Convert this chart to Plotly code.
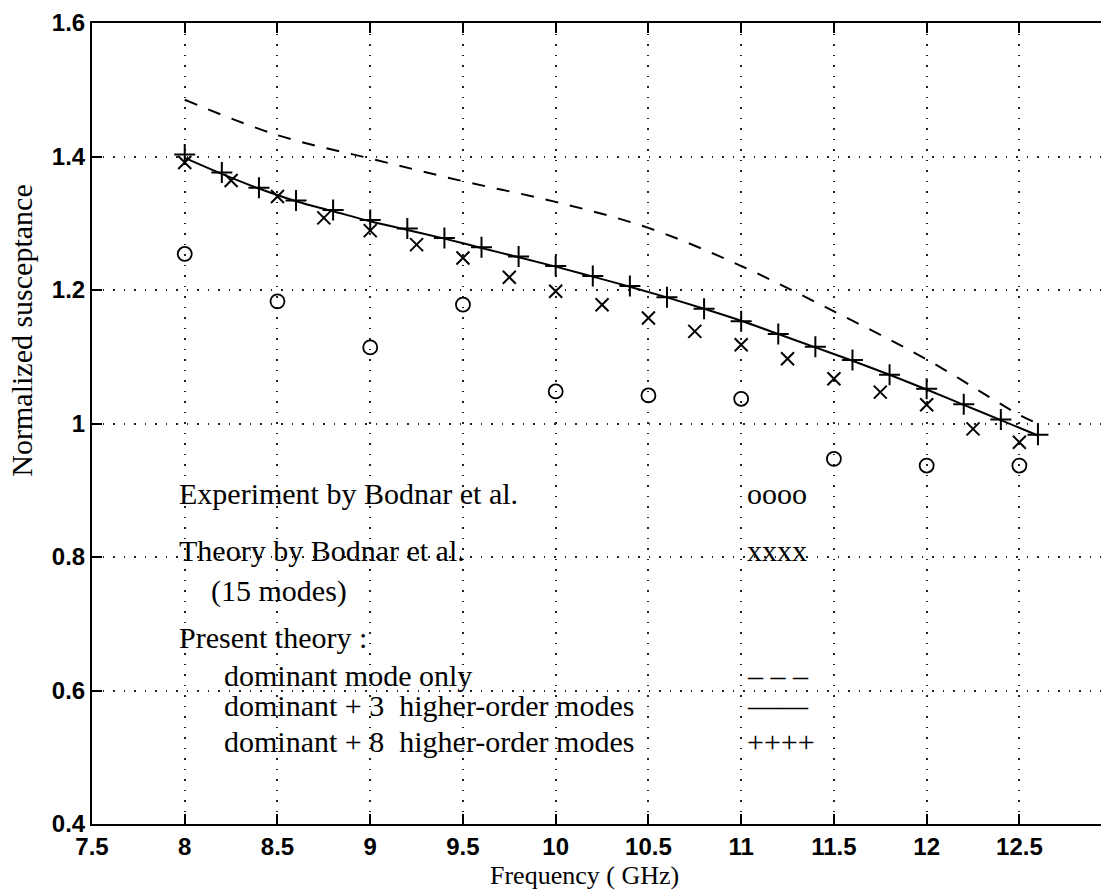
import plotly.graph_objects as go

# ---- data ----
exp_f = [8.0, 8.5, 9.0, 9.5, 10.0, 10.5, 11.0, 11.5, 12.0, 12.5]
exp_b = [1.254, 1.183, 1.114, 1.178, 1.048, 1.042, 1.037, 0.947, 0.937, 0.937]

bod_f = [8.0, 8.25, 8.5, 8.75, 9.0, 9.25, 9.5, 9.75, 10.0, 10.25, 10.5, 10.75,
         11.0, 11.25, 11.5, 11.75, 12.0, 12.25, 12.5]
bod_b = [1.391, 1.364, 1.340, 1.308, 1.289, 1.268, 1.248, 1.219, 1.198, 1.178,
         1.158, 1.138, 1.118, 1.097, 1.067, 1.047, 1.028, 0.992, 0.972]

dom_f = [8.0, 8.5, 9.0, 9.5, 10.0, 10.5, 11.0, 11.5, 12.0, 12.5, 12.6]
dom_b = [1.485, 1.432, 1.397, 1.363, 1.332, 1.293, 1.236, 1.168, 1.096, 1.013, 1.0]

m3_f = [8.0, 8.2, 8.4, 8.6, 8.8, 9.0, 9.2, 9.4, 9.6, 9.8, 10.0, 10.2, 10.4, 10.6,
        10.8, 11.0, 11.2, 11.4, 11.6, 11.8, 12.0, 12.2, 12.4, 12.6]
m3_b = [1.398, 1.374, 1.352, 1.333, 1.318, 1.303, 1.290, 1.277, 1.263, 1.249,
        1.235, 1.220, 1.205, 1.189, 1.172, 1.154, 1.134, 1.114, 1.094, 1.073,
        1.051, 1.028, 1.005, 0.982]

m8_f = [8.0, 8.2, 8.4, 8.6, 8.8, 9.0, 9.2, 9.4, 9.6, 9.8, 10.0, 10.2, 10.4, 10.6,
        10.8, 11.0, 11.2, 11.4, 11.6, 11.8, 12.0, 12.2, 12.4, 12.6]
m8_b = [1.403, 1.376, 1.353, 1.334, 1.320, 1.305, 1.292, 1.278, 1.264, 1.250,
        1.236, 1.221, 1.206, 1.189, 1.172, 1.153, 1.134, 1.115, 1.095, 1.073,
        1.052, 1.029, 1.006, 0.983]

x_ticks = [7.5, 8, 8.5, 9, 9.5, 10, 10.5, 11, 11.5, 12, 12.5]
x_tick_text = ["7.5", "8", "8.5", "9", "9.5", "10", "10.5", "11", "11.5", "12", "12.5"]
y_ticks = [0.4, 0.6, 0.8, 1.0, 1.2, 1.4, 1.6]
y_tick_text = ["0.4", "0.6", "0.8", "1", "1.2", "1.4", "1.6"]

x_title = "Frequency ( GHz)"
y_title = "Normalized susceptance"
labels_left = ["Experiment by Bodnar et al.", "Theory by Bodnar et al.", "(15 modes)",
               "Present theory :", "dominant mode only",
               "dominant + 3  higher-order modes", "dominant + 8  higher-order modes"]
labels_sym = ["oooo", "xxxx", "– – –", "——", "++++"]

SERIF = "Liberation Serif, Times New Roman, serif"
SANS = "Liberation Sans, Arial, sans-serif"
TXT = 30

fig = go.Figure()
fig.add_trace(go.Scatter(x=dom_f, y=dom_b, mode="lines", line_shape="spline",
                         line=dict(color="black", width=2, dash="13px,12px"),
                         showlegend=False))
fig.add_trace(go.Scatter(x=m3_f, y=m3_b, mode="lines", line_shape="spline",
                         line=dict(color="black", width=2), showlegend=False))
fig.add_trace(go.Scatter(x=m8_f, y=m8_b, mode="markers",
                         marker=dict(symbol="cross-thin-open", size=15, color="black",
                                     line=dict(color="black", width=2)),
                         showlegend=False))
fig.add_trace(go.Scatter(x=bod_f, y=bod_b, mode="markers",
                         marker=dict(symbol="x-thin-open", size=13, color="black",
                                     line=dict(color="black", width=2)),
                         showlegend=False))
fig.add_trace(go.Scatter(x=exp_f, y=exp_b, mode="markers",
                         marker=dict(symbol="circle-open", size=14, color="black",
                                     line=dict(color="black", width=1.8)),
                         showlegend=False))

# text block (positions in data coordinates)
left_pos = [(7.96, 0.895), (7.96, 0.809), (8.13, 0.749), (7.96, 0.680),
            (8.20, 0.622), (8.20, 0.577), (8.20, 0.523)]
sym_pos = [(11.02, 0.895), (11.02, 0.809), (11.02, 0.622), (11.02, 0.577), (11.02, 0.523)]
for t, (x, y) in zip(labels_left, left_pos):
    fig.add_annotation(x=x, y=y, text=t, showarrow=False, xanchor="left", yanchor="middle",
                       font=dict(family=SERIF, size=TXT, color="black"))
for t, (x, y) in zip(labels_sym, sym_pos):
    fig.add_annotation(x=x, y=y, text=t, showarrow=False, xanchor="left", yanchor="middle",
                       font=dict(family=SERIF, size=TXT, color="black"))

# axis titles
fig.add_annotation(xref="paper", yref="paper", x=0.4886, y=-0.0836, text=x_title,
                   showarrow=False, xanchor="center", yanchor="bottom",
                   borderpad=0,
                   font=dict(family=SERIF, size=26, color="black"))
fig.add_annotation(xref="paper", yref="paper", x=-0.0693, y=0.616, text=y_title,
                   showarrow=False, xanchor="center", yanchor="middle", textangle=-90,
                   font=dict(family=SERIF, size=TXT, color="black"))

fig.update_layout(
    width=1101, height=891,
    margin=dict(l=92, r=0, t=23, b=67),
    paper_bgcolor="white", plot_bgcolor="white",
    xaxis=dict(range=[7.5, 12.94], tickvals=x_ticks, ticktext=x_tick_text,
               ticks="inside", ticklen=10, tickwidth=2, tickcolor="black",
               showline=True, linecolor="black", linewidth=2, mirror="ticks",
               showgrid=True, gridcolor="#222", griddash="1.5px,9px", gridwidth=1.5,
               zeroline=False,
               tickfont=dict(family=SANS, size=24, color="black", weight="bold")),
    yaxis=dict(range=[0.4, 1.6], tickvals=y_ticks, ticktext=y_tick_text,
               ticks="inside", ticklen=10, tickwidth=2, tickcolor="black",
               showline=True, linecolor="black", linewidth=2, mirror=False,
               showgrid=True, gridcolor="#222", griddash="1.5px,9px", gridwidth=1.5,
               zeroline=False,
               tickfont=dict(family=SANS, size=24, color="black", weight="bold")),
)

fig.write_html("out.html")
